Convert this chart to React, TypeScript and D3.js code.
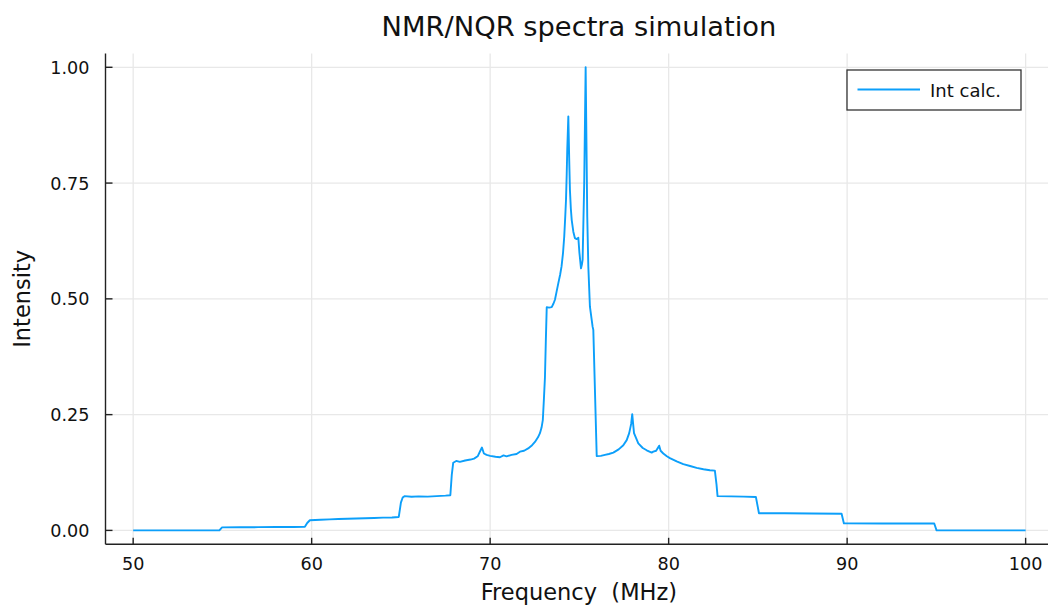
import React from "react";
import * as d3 from "d3";

const freq: number[] = [
  50.0, 54.83, 54.98, 56.0, 57.0, 58.0, 59.0, 59.62, 59.75, 59.9,
  60.5, 61.0, 61.5, 62.0, 62.5, 63.0, 63.5, 64.0, 64.5, 64.88,
  65.0, 65.1, 65.2, 65.6, 66.0, 66.5, 67.0, 67.5, 67.77, 67.85,
  67.93, 68.1, 68.3, 68.6, 68.9, 69.1, 69.3, 69.45, 69.54, 69.65,
  69.8, 70.0, 70.3, 70.55, 70.75, 70.92, 71.2, 71.48, 71.67, 71.9,
  72.13, 72.35, 72.51, 72.68, 72.79, 72.88, 72.95, 73.01, 73.07, 73.12,
  73.17, 73.3, 73.45, 73.55, 73.63, 73.72, 73.82, 73.92, 74.0, 74.08,
  74.15, 74.21, 74.25, 74.29, 74.32, 74.38, 74.43, 74.47, 74.52, 74.57,
  74.66, 74.75, 74.85, 74.94, 75.0, 75.09, 75.14, 75.18, 75.27, 75.35,
  75.44, 75.5, 75.59, 75.74, 75.78, 75.97, 76.2, 76.43, 76.65, 76.9,
  77.2, 77.46, 77.65, 77.79, 77.9, 77.96, 78.01, 78.06, 78.3, 78.55,
  78.77, 79.05, 79.14, 79.3, 79.47, 79.55, 79.7, 79.9, 80.07, 80.45,
  80.82, 81.2, 81.57, 81.95, 82.31, 82.59, 82.68, 82.74, 83.5, 84.2,
  84.89, 85.06, 86.5, 88.0, 89.69, 89.82, 92.0, 94.88, 95.01, 100.0,
];

const intensity: number[] = [
  0.0, 0.0, 0.0065, 0.0068, 0.007, 0.0073, 0.0075, 0.0078, 0.016, 0.022,
  0.023, 0.0238, 0.0245, 0.0252, 0.0258, 0.0262, 0.0268, 0.0276, 0.028, 0.029,
  0.06, 0.071, 0.074, 0.0728, 0.0735, 0.073, 0.074, 0.075, 0.076, 0.12,
  0.146, 0.15, 0.148, 0.151, 0.153, 0.155, 0.16, 0.172, 0.179, 0.166,
  0.163, 0.161, 0.159, 0.158, 0.162, 0.16, 0.163, 0.165, 0.17, 0.172,
  0.177, 0.184, 0.191, 0.201, 0.21, 0.222, 0.238, 0.282, 0.33, 0.41,
  0.482, 0.481, 0.482, 0.49, 0.498, 0.515, 0.534, 0.552, 0.57, 0.598,
  0.634, 0.68, 0.714, 0.77, 0.822, 0.894, 0.8, 0.735, 0.695, 0.67,
  0.645, 0.631, 0.629, 0.632, 0.6, 0.566, 0.574, 0.584, 0.75, 1.0,
  0.678, 0.57, 0.483, 0.44, 0.433, 0.1605, 0.161, 0.163, 0.165, 0.168,
  0.175, 0.184, 0.195, 0.21, 0.23, 0.251, 0.23, 0.21, 0.188, 0.178,
  0.173, 0.168, 0.17, 0.172, 0.183, 0.172, 0.166, 0.16, 0.156, 0.149,
  0.143, 0.139, 0.135, 0.132, 0.13, 0.129, 0.1, 0.074, 0.0735, 0.073,
  0.072, 0.037, 0.037, 0.0365, 0.036, 0.0151, 0.015, 0.015, 0.0, 0.0,
];

const xTicks: number[] = [50, 60, 70, 80, 90, 100];
const yTicks: number[] = [0, 0.25, 0.5, 0.75, 1.0];
const yTickLabels: string[] = ["0.00", "0.25", "0.50", "0.75", "1.00"];
const seriesName = "Int calc.";
const title = "NMR/NQR spectra simulation";
const xLabel = "Frequency  (MHz)";
const yLabel = "Intensity";

export default function App() {
  const W = 1048;
  const H = 608;
  const left = 105.5;
  const right = 1052.4;
  const top = 53.4;
  const bottom = 544.3;
  const x = d3.scaleLinear().domain([48.45, 101.5]).range([left, right]);
  const y = d3.scaleLinear().domain([-0.03, 1.03]).range([bottom, top]);
  const pts: [number, number][] = freq.map((f, i) => [f, intensity[i]]);
  const line = d3
    .line<[number, number]>()
    .x((d) => x(d[0]))
    .y((d) => y(d[1]));
  const font = "'DejaVu Sans', sans-serif";
  const color = "#0c9ffa";
  const axisColor = "#222";
  return (
    <svg
      width={W}
      height={H}
      style={{ position: "absolute", left: 0, top: 0, background: "#fff" }}
      fontFamily={font}
    >
      <rect x={0} y={0} width={W} height={H} fill="#fff" />
      {xTicks.map((t) => (
        <line key={"gx" + t} x1={x(t)} x2={x(t)} y1={top} y2={bottom} stroke="#e8e8e8" strokeWidth={1.3} />
      ))}
      {yTicks.map((t) => (
        <line key={"gy" + t} x1={left} x2={right} y1={y(t)} y2={y(t)} stroke="#e8e8e8" strokeWidth={1.3} />
      ))}
      <line x1={left} x2={left} y1={top} y2={bottom} stroke={axisColor} strokeWidth={1.4} />
      <line x1={left} x2={right} y1={bottom} y2={bottom} stroke={axisColor} strokeWidth={1.4} />
      {xTicks.map((t) => (
        <g key={"tx" + t}>
          <line x1={x(t)} x2={x(t)} y1={bottom} y2={bottom - 6.5} stroke={axisColor} strokeWidth={1.4} />
          <text x={x(t)} y={570} textAnchor="middle" fontSize={17.6} fill="#111">
            {t}
          </text>
        </g>
      ))}
      {yTicks.map((t, i) => (
        <g key={"ty" + t}>
          <line x1={left} x2={left + 7} y1={y(t)} y2={y(t)} stroke={axisColor} strokeWidth={1.4} />
          <text x={89.5} y={y(t) + 6.5} textAnchor="end" fontSize={17.6} fill="#111">
            {yTickLabels[i]}
          </text>
        </g>
      ))}
      <path d={line(pts) || ""} fill="none" stroke={color} strokeWidth={1.9} strokeLinejoin="round" />
      <text x={(left + right) / 2} y={36} textAnchor="middle" fontSize={27.3} fill="#111">
        {title}
      </text>
      <text
        x={(left + right) / 2}
        y={600}
        textAnchor="middle"
        fontSize={22.5}
        fill="#111"
        style={{ whiteSpace: "pre" }}
      >
        {xLabel}
      </text>
      <text
        transform={`translate(30, ${(top + bottom) / 2}) rotate(-90)`}
        textAnchor="middle"
        fontSize={22.5}
        fill="#111"
      >
        {yLabel}
      </text>
      <rect x={847} y={70} width={174} height={40} fill="#fff" stroke="#333" strokeWidth={1.3} />
      <line x1={857.5} x2={920} y1={89.5} y2={89.5} stroke={color} strokeWidth={1.9} />
      <text x={930} y={96.5} fontSize={18} fill="#111">
        {seriesName}
      </text>
    </svg>
  );
}
